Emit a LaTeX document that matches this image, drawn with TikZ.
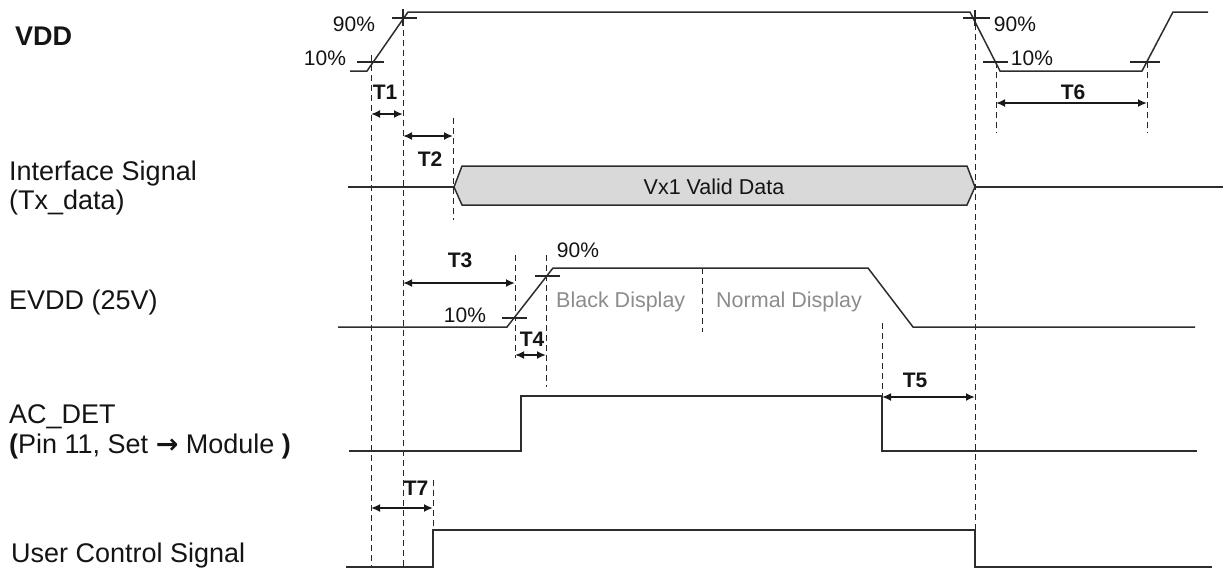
\documentclass[tikz,border=0pt]{standalone}
\usepackage{fontspec}
\setmainfont{Liberation Sans}
\newfontfamily\arrowfont{DejaVu Sans}
\usetikzlibrary{arrows.meta}
\definecolor{wavec}{RGB}{45,45,45}
\definecolor{datafill}{RGB}{217,217,217}
\definecolor{notec}{RGB}{140,140,140}
\definecolor{inkc}{RGB}{20,20,20}
\begin{document}
\begin{tikzpicture}[x=1pt,y=-1pt,
  wave/.style={draw=wavec, line width=1.5pt, line join=miter},
  guide/.style={draw=black!85, line width=1pt, dash pattern=on 6pt off 4pt},
  tickmark/.style={draw=black!85, line width=1.1pt},
  span/.style={draw=black!90, line width=2pt,
    {Latex[length=9pt,width=8pt]}-{Latex[length=9pt,width=8pt]}},
  sig/.style={font=\fontsize{27}{30}\selectfont, text=inkc, anchor=base west, inner sep=0pt},
  pct/.style={font=\fontsize{21}{24}\selectfont, text=inkc, inner sep=0pt},
  tlab/.style={font=\fontsize{21}{24}\selectfont\bfseries, text=inkc, inner sep=0pt},
  state/.style={font=\fontsize{21.5}{24}\selectfont, text=notec, anchor=base west, inner sep=0pt},
]
\useasboundingbox (0,0) rectangle (1224,568);

% ---------- signal names ----------
\node[sig] (nVDD) at (15,45) {\bfseries VDD};
\node[sig] (nIF)  at (9,180) {Interface Signal};
\node[sig] (nTX)  at (9,209) {(Tx\_data)};
\node[sig] (nEV)  at (9,309) {EVDD (25V)};
\node[sig] (nAC)  at (9,423) {AC\_DET};
\node[sig] (nPIN) at (9,453) {\textbf{(}Pin 11, Set {\arrowfont\bfseries →} Module \textbf{)}};
\node[sig] (nUC)  at (11,562) {User Control Signal};

% ---------- reference lines ----------
\draw[guide] (371,55) -- (371,568);
\draw[guide] (403,10) -- (403,568);
\draw[guide] (453,118) -- (453,220);
\draw[guide] (975,14) -- (975,530);
\draw[guide] (996,62) -- (996,133);
\draw[guide] (1147,62) -- (1147,133);
\draw[guide] (515,255) -- (515,358);
\draw[guide] (546,255) -- (546,387);
\draw[guide] (702,268) -- (702,332);
\draw[guide] (882,323) -- (882,451);
\draw[guide] (433,480) -- (433,530);

% ---------- VDD ----------
\draw[wave] (350,71) -- (367,71) -- (408,12) -- (970,12) -- (1000,71)
  -- (1142,71) -- (1173,12) -- (1208,12);
\draw[tickmark] (357,62) -- (384,62);
\draw[tickmark] (392,18) -- (417,18);
\draw[tickmark] (963,18) -- (990,18);
\draw[tickmark] (983,62) -- (1008,62);
\draw[tickmark] (1130,62) -- (1160,62);
\draw[tickmark] (403,9) -- (403,26);
\draw[tickmark] (975,10) -- (975,26);
\node[pct] (p1) at (354,24) {90\%};
\node[pct] (p2) at (325,58) {10\%};
\node[pct] (p3) at (1015,24) {90\%};
\node[pct] (p4) at (1032,58) {10\%};

% ---------- Interface signal ----------
\draw[wave] (348,187) -- (454,187);
\draw[wave, fill=datafill] (454,187) -- (462,166) -- (967,166) -- (975,187)
  -- (967,205) -- (462,205) -- cycle;
\draw[wave] (975,187) -- (1223,187);
\node[font=\fontsize{21.5}{24}\selectfont, text=inkc, inner sep=0pt] (vx) at (714,187) {Vx1 Valid Data};

% ---------- EVDD ----------
\draw[wave] (338,327) -- (507,327) -- (553,268) -- (868,268) -- (913,327) -- (1195,327);
\draw[tickmark] (502,318) -- (527,318);
\draw[tickmark] (535,276) -- (560,276);
\node[pct] (p5) at (578,250) {90\%};
\node[pct] (p6) at (465,315) {10\%};
\node[state] (blk) at (556,307) {Black Display};
\node[state] (nrm) at (716,307) {Normal Display};

% ---------- AC_DET ----------
\draw[wave] (349,451) -- (521,451) -- (521,396) -- (882,396) -- (882,451) -- (1197,451);

% ---------- User control ----------
\draw[wave] (346,567) -- (433,567) -- (433,530) -- (975,530) -- (975,567) -- (1212,567);

% ---------- timing spans ----------
\draw[span] (371,114) -- (403,114);
\node[tlab] (t1) at (385,92) {T1};
\draw[span] (403,136) -- (453,136);
\node[tlab] (t2) at (430,159) {T2};
\draw[span] (403,283) -- (515,283);
\node[tlab] (t3) at (460,260) {T3};
\draw[span] (515,355) -- (546,355);
\node[tlab] (t4) at (532,339) {T4};
\draw[span] (882,397) -- (975,397);
\node[tlab] (t5) at (915,380) {T5};
\draw[span] (996,103) -- (1147,103);
\node[tlab] (t6) at (1073,92) {T6};
\draw[span] (371,508) -- (433,508);
\node[tlab] (t7) at (416,488) {T7};
\end{tikzpicture}
\end{document}
